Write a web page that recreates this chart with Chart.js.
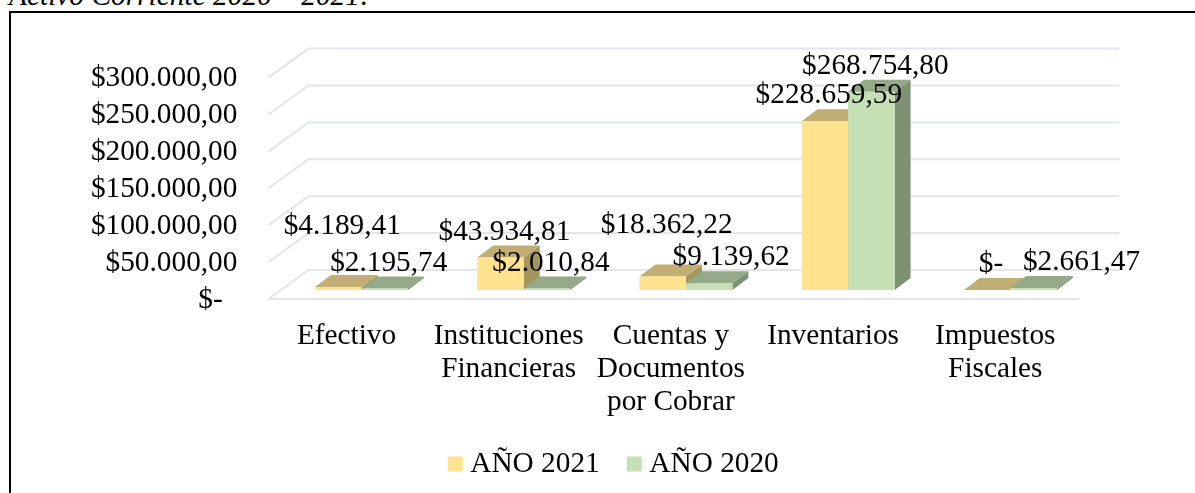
<!DOCTYPE html>
<html lang="es"><head><meta charset="utf-8">
<style>
html,body{margin:0;padding:0;background:#fff;overflow:hidden}
#wrap{position:relative;width:1195px;height:493px;overflow:hidden}
canvas{position:absolute;left:0;top:0}
#cap{position:absolute;left:9px;top:-21px;font:italic 29.4px "Liberation Serif",serif;color:#000;white-space:nowrap}
#ft{position:absolute;left:9px;top:11px;width:1186px;height:2px;background:#000}
#fl{position:absolute;left:9px;top:11px;width:2px;height:482px;background:#000}
</style></head><body>
<div id="wrap">
<div id="cap">Activo Corriente 2020 – 2021:</div><div id="ft"></div><div id="fl"></div>
<canvas id="c" width="1195" height="493"></canvas>
</div>
<script src="https://cdn.jsdelivr.net/npm/chart.js@4/dist/chart.umd.min.js"></script>
<script>
const categories = [['Efectivo'], ['Instituciones','Financieras'], ['Cuentas y','Documentos','por Cobrar'], ['Inventarios'], ['Impuestos','Fiscales']];
const year2021 = [4189.41, 43934.81, 18362.22, 228659.59, 0];
const year2020 = [2195.74, 2010.84, 9139.62, 268754.80, 2661.47];
const tickLabels = ['$-  ', '$50.000,00', '$100.000,00', '$150.000,00', '$200.000,00', '$250.000,00', '$300.000,00'];
const shift2021 = [[0,-35],[0,0],[0,-26],[0,0],[0,0]];
const shift2020 = [[0,0],[0,0],[18,0],[0,0],[44,0]];

const FONT = '"Liberation Serif", serif', FS = 29.3;
const fronts = ['#FFE38F', '#C5E0B4'], tops = ['#C0AE74', '#93A987'], sides = ['#A5965F', '#7F9174'];
const shifts = [shift2021, shift2020];

function money(v){
  if(!v) return '$-';
  const [a,b] = v.toFixed(2).split('.');
  return '$' + a.replace(/\B(?=(\d{3})+$)/g,'.') + ',' + b;
}
function poly(ctx, pts, color){
  ctx.fillStyle = color; ctx.beginPath();
  pts.forEach((p,i)=> i ? ctx.lineTo(p[0],p[1]) : ctx.moveTo(p[0],p[1]));
  ctx.closePath(); ctx.fill();
}
const GX0=-12, GX1=28, GY0=9, GY1=-20, DX=16, DY=-12;
const scene = {
  id:'scene',
  afterLayout(chart){
    const l=chart.legend, dx=71;
    l.left+=dx; l.right+=dx;
    l.top=464-34-FS/2;
  },
  beforeDatasetsDraw(chart){
    const {ctx, chartArea:a, scales:{y}} = chart;
    ctx.save();
    ctx.strokeStyle='#E3E5EB'; ctx.lineWidth=2; ctx.lineCap='butt';
    y.ticks.forEach(t=>{
      const p=y.getPixelForValue(t.value);
      ctx.beginPath();
      ctx.moveTo(a.left+GX0,p+GY0); ctx.lineTo(a.left+GX1,p+GY1); ctx.lineTo(a.right+GX1,p+GY1);
      ctx.stroke();
      if(t.value===0){
        ctx.beginPath(); ctx.moveTo(a.left+GX0,p+GY0); ctx.lineTo(a.right+GX0,p+GY0); ctx.stroke();
      }
    });
    [0,1].forEach(d=>{
      chart.getDatasetMeta(d).data.forEach(b=>{
        const l=b.x-b.width/2, r=b.x+b.width/2, t=b.y, bs=b.base;
        poly(ctx,[[r,t],[r+DX,t+DY],[r+DX,bs+DY],[r,bs]],sides[d]);
        poly(ctx,[[l,t],[l+DX,t+DY],[r+DX,t+DY],[r,t]],tops[d]);
      });
    });
    ctx.restore();
  },
  afterDatasetsDraw(chart){
    const {ctx}=chart;
    ctx.save();
    ctx.font=FS+'px '+FONT; ctx.fillStyle='#000'; ctx.textAlign='center'; ctx.textBaseline='middle';
    [0,1].forEach(d=>{
      const ds=chart.data.datasets[d];
      chart.getDatasetMeta(d).data.forEach((b,i)=>{
        const s=shifts[d][i];
        ctx.fillText(money(ds.data[i]), b.x+4+s[0], b.y-25.5+s[1]);
      });
    });
    ctx.restore();
  }
};
new Chart(document.getElementById('c'),{
  type:'bar',
  data:{labels:categories,datasets:[
    {label:'AÑO 2021',data:year2021,backgroundColor:fronts[0],borderWidth:0},
    {label:'AÑO 2020',data:year2020,backgroundColor:fronts[1],borderWidth:0}
  ]},
  plugins:[scene],
  options:{
    responsive:false,animation:false,
    layout:{padding:{left:0,right:103.6,top:68.6,bottom:0}},
    datasets:{bar:{categoryPercentage:0.5733,barPercentage:1}},
    scales:{
      x:{
        grid:{display:false},border:{display:false},
        afterFit(s){s.height=173;},
        ticks:{autoSkip:false,maxRotation:0,minRotation:0,labelOffset:-15,padding:22,color:'#000',font:{family:FONT,size:FS,lineHeight:1.13}}
      },
      y:{
        min:0,max:300000,
        grid:{display:false},border:{display:false},
        afterFit(s){s.width=280.4;},
        ticks:{autoSkip:false,stepSize:50000,padding:35,labelOffset:10,color:'#000',font:{family:FONT,size:FS},
          callback(v){return tickLabels[Math.round(v/50000)];}}
      }
    },
    plugins:{
      tooltip:{enabled:false},
      legend:{position:'bottom',maxHeight:30,labels:{usePointStyle:true,pointStyle:'rect',boxWidth:1,boxHeight:15,padding:34,color:'#000',font:{family:FONT,size:FS}}}
    }
  }
});
</script>
</body></html>
